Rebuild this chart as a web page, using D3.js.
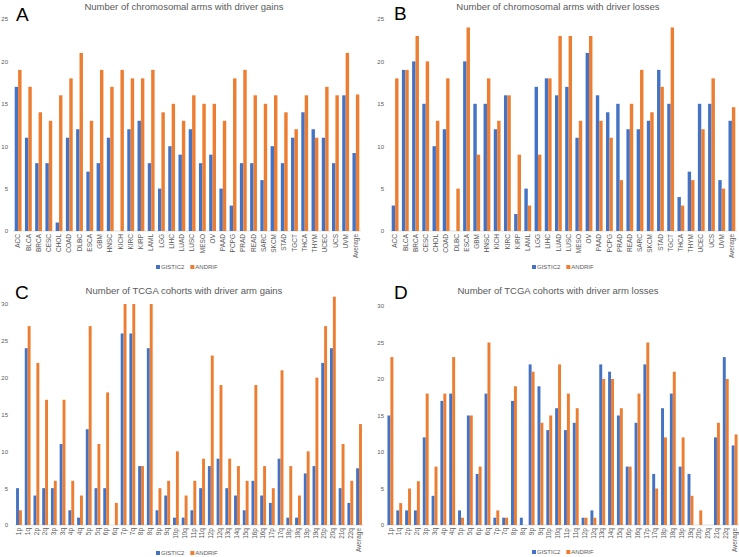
<!DOCTYPE html>
<html>
<head>
<meta charset="utf-8">
<script src="https://cdn.jsdelivr.net/npm/d3@7"></script>
<style>
  html, body { margin: 0; padding: 0; background: #fff; }
  svg { display: block; font-family: "Liberation Sans", Arial, sans-serif; }
</style>
</head>
<body>
<svg id="chart" width="739" height="557"></svg>
<script>
// ---------- DATA ----------
const cancerTypes = ["ACC","BLCA","BRCA","CESC","CHOL","COAD","DLBC","ESCA","GBM","HNSC","KICH","KIRC","KIRP","LAML","LGG","LIHC","LUAD","LUSC","MESO","OV","PAAD","PCPG","PRAD","READ","SARC","SKCM","STAD","TGCT","THCA","THYM","UCEC","UCS","UVM","Average"];
const gainsGistic2 = [17,11,8,8,1,11,12,7,8,11,0,12,13,8,5,10,9,12,8,9,5,3,8,8,6,10,8,11,14,12,11,8,16,9.2];
const gainsAndrif  = [19,17,14,13,16,18,21,13,19,17,19,18,18,19,14,15,13,16,15,15,13,18,19,16,15,16,14,12,16,11,17,16,21,16.1];
const lossesGistic2 = [3,19,20,15,10,12,0,20,15,15,12,16,2,5,17,18,16,17,11,21,16,14,15,12,12,13,19,15,4,7,15,15,6,13];
const lossesAndrif  = [18,19,23,20,13,18,5,24,9,18,13,16,9,3,9,18,23,23,13,23,13,11,6,15,19,14,17,24,3,6,12,18,5,14.6];

const chromArms = ["1p","1q","2p","2q","3p","3q","4p","4q","5p","5q","6p","6q","7p","7q","8p","8q","9p","9q","10p","10q","11p","11q","12p","12q","13q","14q","15q","16p","16q","17p","17q","18p","18q","19p","19q","20p","20q","21q","22q","Average"];
const cohortGainsGistic2 = [5,24,4,5,5,11,2,1,13,5,5,0,26,26,8,24,2,4,1,1,2,5,8,9,5,4,2,6,4,3,9,1,1,7,8,22,24,5,3,7.7];
const cohortGainsAndrif  = [2,27,22,17,6,17,6,4,27,11,18,3,30,30,8,30,5,6,10,4,6,9,23,19,9,8,6,19,8,5,21,8,4,10,20,27,31,11,6,13.7];
const cohortLossesGistic2 = [15,2,2,2,12,4,17,18,2,15,7,18,1,1,17,1,22,19,13,16,13,14,1,2,22,21,15,8,14,22,7,16,18,8,7,0,0,12,23,10.9];
const cohortLossesAndrif  = [23,3,5,6,18,8,18,23,1,15,8,25,2,1,19,0,21,14,15,22,18,16,1,1,20,20,16,8,18,25,5,12,21,12,4,2,0,14,20,12.4];

const seriesNames = ["GISTIC2","ANDRIF"];
const gainTicks = [0,5,10,15,20,25];
const cohortTicks = [0,5,10,15,20,25,30];

const titles = [
  "Number of chromosomal arms with driver gains",
  "Number of chromosomal arms with driver losses",
  "Number of TCGA cohorts with driver arm gains",
  "Number of TCGA cohorts with driver arm losses"
];
const panelLetters = ["A","B","C","D"];

// ---------- STYLE ----------
const colors = { GISTIC2: "#4472C4", ANDRIF: "#ED7D31" };
const textGray = "#595959";

const svg = d3.select("#chart");

function drawPanel(p) {
  const g = svg.append("g");
  const x0 = d3.scaleBand().domain(p.cats).range([p.left, p.right]).paddingInner(0).paddingOuter(0);
  const x1 = d3.scaleBand().domain(seriesNames).range([0, x0.bandwidth()]).paddingInner(0).paddingOuter(0.5);
  const y = d3.scaleLinear().domain([0, p.max]).range([p.bottom, p.top]);

  // baseline
  g.append("line")
    .attr("x1", p.left).attr("x2", p.right)
    .attr("y1", y(0)).attr("y2", y(0))
    .attr("stroke", "#d9d9d9").attr("stroke-width", 0.8);

  // y axis (labels only)
  const yAxis = d3.axisLeft(y).tickValues(p.ticks).tickSize(0).tickPadding(0).tickFormat(d3.format("d"));
  const ya = g.append("g").attr("transform", `translate(${p.yLabelX},0)`).call(yAxis);
  ya.select(".domain").remove();
  ya.selectAll("text").attr("fill", textGray).style("font-size", "6px");

  // bars
  const rows = p.cats.map((c, i) => ({ cat: c, GISTIC2: p.a[i], ANDRIF: p.b[i] }));
  const grp = g.selectAll(".grp").data(rows).enter().append("g")
    .attr("transform", d => `translate(${x0(d.cat)},0)`);
  grp.selectAll("rect").data(d => seriesNames.map(k => ({ key: k, value: d[k] }))).enter()
    .append("rect")
    .attr("x", d => x1(d.key))
    .attr("width", x1.bandwidth())
    .attr("y", d => y(d.value))
    .attr("height", d => y(0) - y(d.value))
    .attr("fill", d => colors[d.key]);

  // x labels (rotated)
  const xAxis = d3.axisBottom(x0).tickSize(0).tickPadding(0);
  const xa = g.append("g").attr("transform", `translate(0,${y(0)})`).call(xAxis);
  xa.select(".domain").remove();
  xa.selectAll("text")
    .attr("fill", textGray)
    .style("font-size", "6.5px")
    .attr("text-anchor", "end")
    .attr("dy", null)
    .attr("y", null)
    .attr("transform", "translate(2.2,3) rotate(-90)");

  // title
  g.append("text")
    .attr("x", p.titleX).attr("y", p.titleY)
    .attr("text-anchor", "middle")
    .attr("fill", textGray)
    .style("font-size", "9.5px")
    .text(p.title);

  // panel letter
  g.append("text")
    .attr("x", p.letterX).attr("y", p.letterY)
    .attr("fill", "#000")
    .style("font-size", "19px")
    .text(p.letter);

  // legend
  const lg = g.append("g").attr("transform", `translate(${p.legendX},${p.legendY})`);
  let off = 0;
  seriesNames.forEach(name => {
    lg.append("rect").attr("x", off).attr("y", -3).attr("width", 4).attr("height", 4).attr("fill", colors[name]);
    const t = lg.append("text").attr("x", off + 5).attr("y", 1.3)
      .attr("fill", textGray).style("font-size", "6px").text(name);
    off += 5 + t.node().getComputedTextLength() + 6;
  });
}

drawPanel({ cats: cancerTypes, a: gainsGistic2, b: gainsAndrif, max: 25, ticks: gainTicks,
  left: 13, right: 361, top: 19, bottom: 231, yLabelX: 8,
  title: titles[0], titleX: 184, titleY: 10, letter: panelLetters[0], letterX: 16, letterY: 21,
  legendX: 156, legendY: 268 });
drawPanel({ cats: cancerTypes, a: lossesGistic2, b: lossesAndrif, max: 25, ticks: gainTicks,
  left: 390, right: 737, top: 19, bottom: 231, yLabelX: 384,
  title: titles[1], titleX: 558, titleY: 10, letter: panelLetters[1], letterX: 394, letterY: 20,
  legendX: 532, legendY: 268 });
drawPanel({ cats: chromArms, a: cohortGainsGistic2, b: cohortGainsAndrif, max: 30, ticks: cohortTicks,
  left: 14.6, right: 363.4, top: 304, bottom: 525, yLabelX: 8,
  title: titles[2], titleX: 184, titleY: 294, letter: panelLetters[2], letterX: 15, letterY: 298.5,
  legendX: 156, legendY: 554 });
drawPanel({ cats: chromArms, a: cohortLossesGistic2, b: cohortLossesAndrif, max: 30, ticks: cohortTicks,
  left: 386, right: 739, top: 306, bottom: 525, yLabelX: 384,
  title: titles[3], titleX: 558, titleY: 294, letter: panelLetters[3], letterX: 394, letterY: 299,
  legendX: 532, legendY: 553 });
</script>
</body>
</html>
